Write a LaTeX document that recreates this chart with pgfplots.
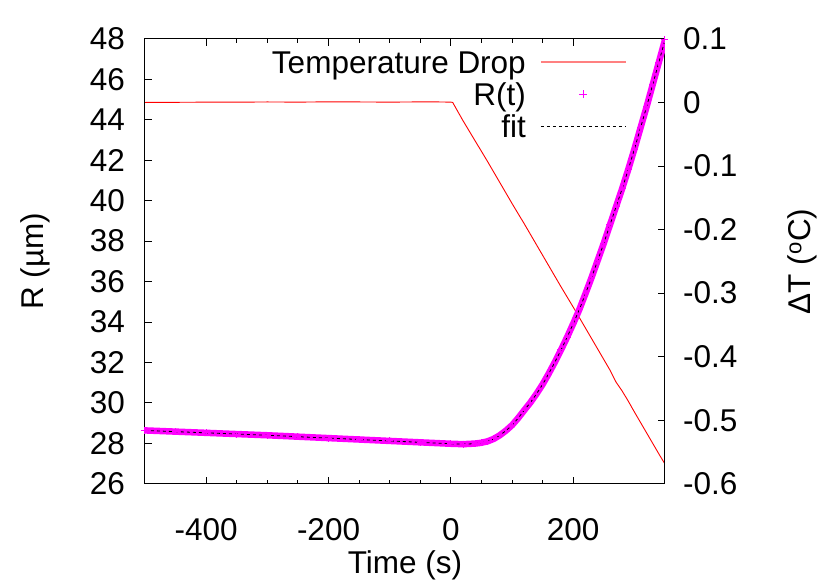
\documentclass[border=0pt]{standalone}
\usepackage{fontspec}
\setmainfont{Liberation Sans}
\usepackage{pgfplots}
\usepackage{pgfplotstable}
\pgfplotsset{compat=1.18}
\definecolor{gpmag}{RGB}{255,0,255}
\definecolor{gpred}{RGB}{255,0,0}

\pgfplotstableread{
t dT
-500 0.0000
-450 0.0002
-400 0.0005
-350 0.0004
-300 0.0008
-250 0.0005
-200 0.0010
-150 0.0008
-100 0.0005
-50 0.0009
-20 0.0008
0 0.0005
3 0.0000
10 -0.012
20 -0.029
30 -0.045
40 -0.061
60 -0.093
80 -0.126
100 -0.159
120 -0.191
140 -0.224
160 -0.257
180 -0.290
200 -0.322
220 -0.355
240 -0.388
260 -0.421
270 -0.440
280 -0.454
290 -0.470
300 -0.487
320 -0.520
340 -0.553
350 -0.569
}\tempdata

\pgfplotstableread{
t R
-500 28.64
-450 28.58
-400 28.52
-350 28.46
-300 28.40
-250 28.33
-200 28.26
-150 28.19
-100 28.12
-50 28.05
0 27.98
20 27.96
40 27.99
50 28.03
60 28.10
70 28.22
80 28.40
90 28.63
100 28.90
110 29.25
120 29.64
130 30.02
140 30.45
150 30.92
160 31.45
170 32.02
180 32.62
190 33.25
200 33.92
210 34.62
220 35.40
230 36.20
240 37.05
250 37.90
260 38.80
270 39.70
280 40.60
290 41.55
300 42.55
310 43.60
320 44.65
330 45.75
340 46.85
350 47.95
}\rdata

\pgfplotsset{
  gpbase/.style={
    width=520bp, height=444.9bp, scale only axis,
    xmin=-500, xmax=350,
    tick align=inside,
    major tick length=7bp, minor tick length=4bp,
    every tick/.style={black, line width=0.9bp},
    axis line style={line width=1bp},
    /pgf/number format/assume math mode=true,
    font=\fontsize{31.5bp}{36bp}\selectfont,
  }
}

\begin{document}
\begin{tikzpicture}
\useasboundingbox (-145bp,-97.2bp) rectangle (685bp,483.8bp);

% right axis: temperature drop
\begin{axis}[gpbase,
  hide x axis,
  axis y line*=right,
  ymin=-0.6, ymax=0.1,
  ytick={-0.6,-0.5,-0.4,-0.3,-0.2,-0.1,0,0.1},
  yticklabels={-0.6,-0.5,-0.4,-0.3,-0.2,-0.1,0,0.1},
  yticklabel style={anchor=west, inner sep=0pt, xshift=18bp},
  ylabel={ΔT (\textsuperscript{o}C)},
  ylabel style={at={(axis description cs:1,0.5)}, rotate=0, anchor=south, inner sep=0pt, yshift=-152bp},
]
\addplot[gpred, line width=0.9bp] table[x=t, y=dT] {\tempdata};
\end{axis}

% left axis: radius
\begin{axis}[gpbase,
  ymin=26, ymax=48,
  ytick={26,28,...,48},
  ytick pos=left,
  xtick={-400,-200,0,200},
  xticklabels={-400,-200,0,200},
  minor x tick num=3,
  xtick pos=both,
  xticklabel style={anchor=north, inner sep=0pt, yshift=-34.8bp},
  yticklabel style={anchor=east, inner sep=0pt, xshift=-20bp},
  xlabel={Time (s)},
  xlabel style={at={(axis description cs:0.5,0)}, anchor=north, inner sep=0pt, yshift=-67bp},
  ylabel={R (µm)},
  ylabel style={at={(axis description cs:0,0.5)}, anchor=south, inner sep=0pt, yshift=95bp},
  legend plot pos=right,
  legend cell align=right,
  legend style={draw=none, fill=none, inner sep=0pt,
    at={(axis description cs:0.927,0.974)}, anchor=north east,
    column sep=14bp, row sep=2bp,
    nodes={inner sep=0pt, text height=23bp, text depth=7bp}},
]
\addlegendimage{legend image code/.code={\draw[draw=gpred!50, line width=2bp] (0bp,3.6bp) -- (85bp,3.6bp);}}
\addlegendentry{Temperature Drop}
\addplot[gpmag, line width=6.5bp, mark=+, mark size=3.5bp,
  mark options={line width=1bp, solid},
  legend image code/.code={\path[draw=none] (0bp,3.6bp) -- (85bp,3.6bp);
    \draw[draw=gpmag, line width=1bp] (38.5bp,3.6bp) -- (46.5bp,3.6bp) (42.5bp,-0.4bp) -- (42.5bp,7.6bp);}]
  table[x=t, y=R] {\rdata};
\addlegendentry{R(t)}
\addplot[black, line width=0.8bp, dash pattern=on 3bp off 3bp, smooth,
  legend image code/.code={\draw[black, line width=0.8bp, dash pattern=on 3bp off 3bp] (0bp,3.6bp) -- (85bp,3.6bp);}]
  table[x=t, y=R] {\rdata};
\addlegendentry{fit}
\end{axis}
\end{tikzpicture}
\end{document}
